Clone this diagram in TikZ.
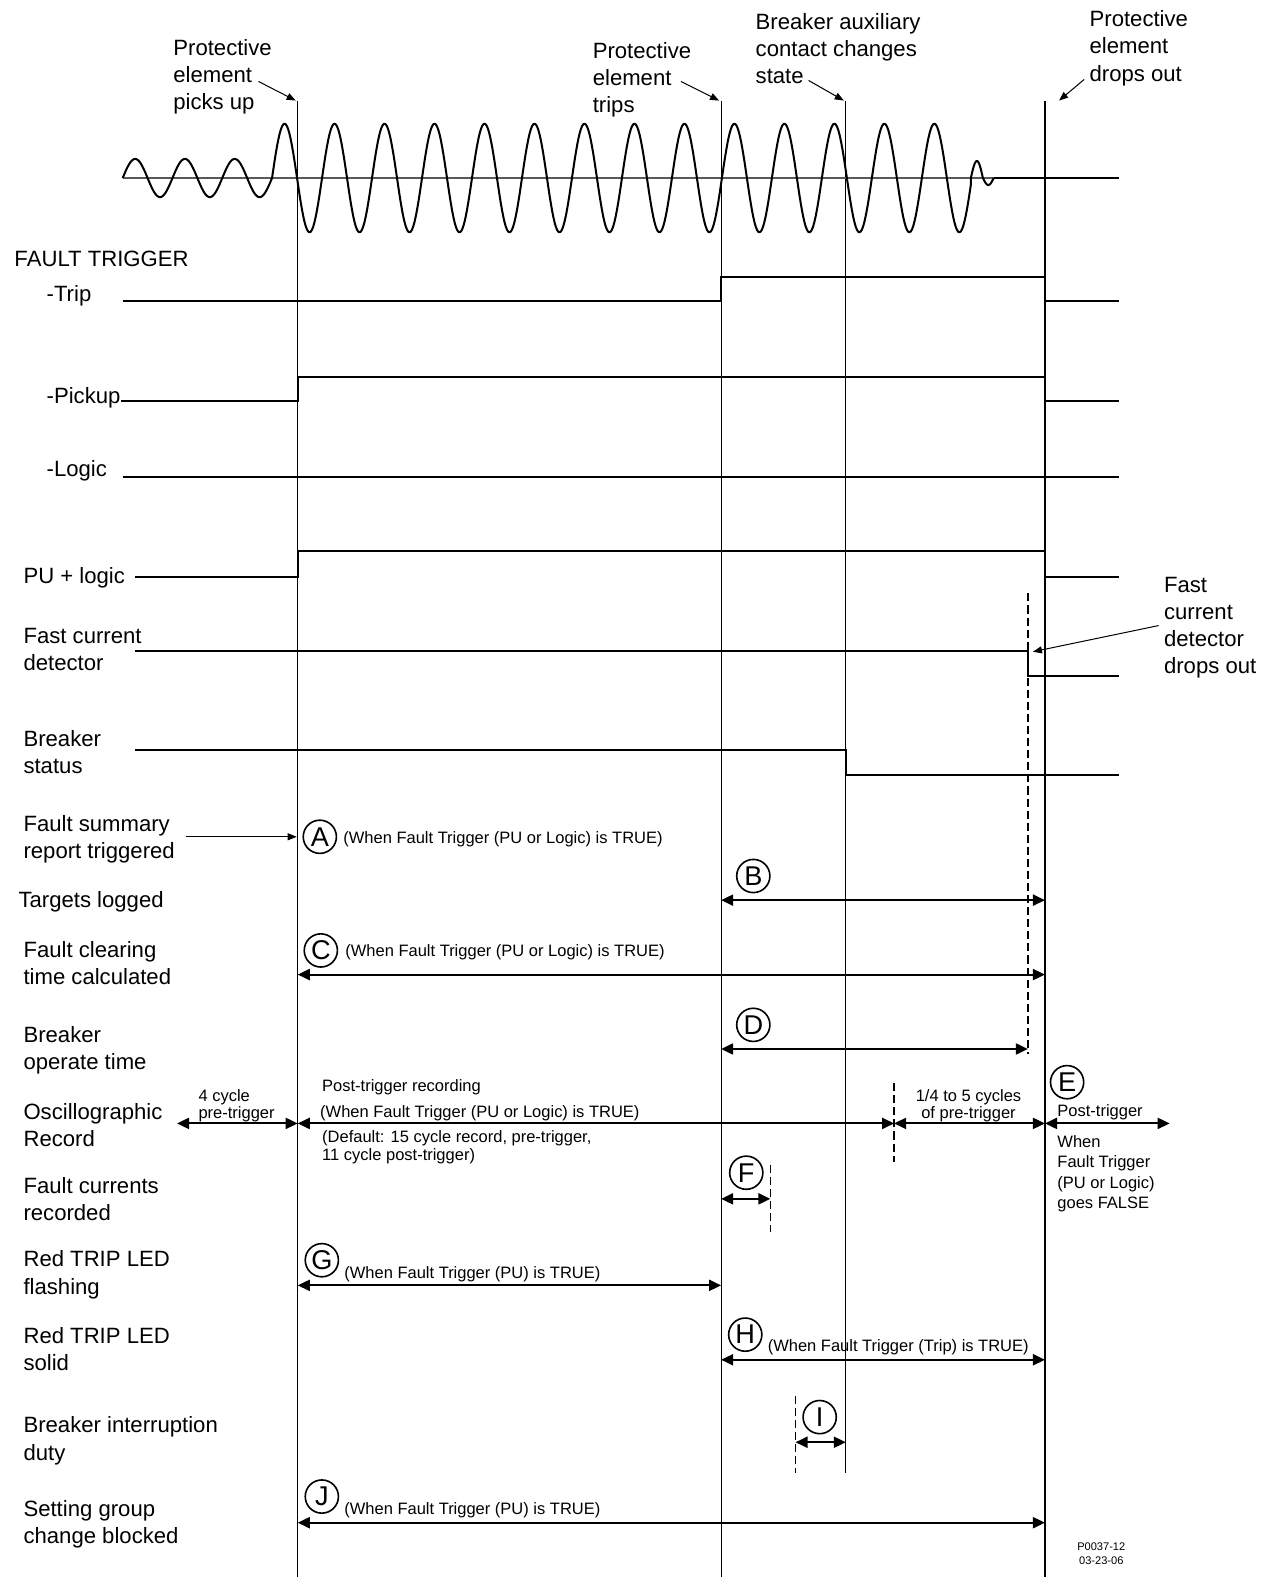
\documentclass[tikz,border=0pt]{standalone}
\usepackage{fontspec}
\setmainfont{Liberation Sans}
\usetikzlibrary{arrows.meta}
\begin{document}
\begin{tikzpicture}[x=0.5pt,y=-0.5pt,
 lbl/.style={font=\fontsize{11}{13.5}\selectfont, align=left, inner sep=0pt, anchor=west, yshift=-1pt},
 sml/.style={font=\fontsize{8.2}{8.5}\selectfont, align=left, inner sep=0pt, anchor=west, yshift=-1pt},
 circ/.style={circle, draw, line width=0.8pt, minimum size=16.5pt, inner sep=0pt, font=\fontsize{13.5}{13.5}\selectfont},
 vline/.style={line width=0.6pt},
 sig/.style={line width=1pt},
 wave/.style={line width=1pt, line join=round},
 dim/.style={line width=1pt, {Triangle[length=6pt,width=5.5pt]}-{Triangle[length=6pt,width=5.5pt]}},
 callout/.style={line width=0.5pt, -{Triangle[length=4.5pt,width=3.5pt]}},
 dsh/.style={line width=0.7pt, dash pattern=on 4pt off 2pt}
]
\useasboundingbox (0,0) rectangle (1260,1568);

% ---------- vertical event lines ----------
\coordinate (v1t) at (296,100);  \coordinate (v1b) at (296,1568);
\coordinate (v2t) at (717,100);  \coordinate (v2b) at (717,1568);
\coordinate (v3t) at (841,100);  \coordinate (v3b) at (841,1465);
\coordinate (v4t) at (1039,100); \coordinate (v4b) at (1039,1568);
\draw[vline] (v1t) -- (v1b);
\draw[vline] (v2t) -- (v2b);
\draw[vline] (v3t) -- (v3b);
\draw[vline] (v4t) -- (v4b);

% ---------- top labels ----------
\node[lbl] (lpu) at (172,74.5) {Protective\\element\\picks up};
\node[lbl] (ltr) at (589,77) {Protective\\element\\trips};
\node[lbl] (lax) at (751,46) {Breaker auxiliary\\contact changes\\state};
\node[lbl] (ldo) at (1083,46) {Protective\\element\\drops out};
\coordinate (cpu) at (257,81);
\coordinate (ctr) at (677,81);
\coordinate (cax) at (804,80);
\coordinate (cdo) at (1078,79);
\draw[callout] (cpu) -- ([xshift=-1]v1t);
\draw[callout] (ctr) -- ([xshift=-1]v2t);
\draw[callout] (cax) -- ([xshift=-1]v3t);
\draw[callout] (cdo) -- ([xshift=7]v4t);

% ---------- waveform ----------
\coordinate (ax0) at (122,177); \coordinate (ax1) at (988,177); \coordinate (ax2) at (1113,177);
\draw[line width=0.6pt, gray!70!black] (ax0) -- (ax1);
\draw[line width=1pt] (ax1) -- (ax2);
\draw[wave] plot[domain=122:270.5, samples=120] (\x, {177-19*sin(7.2727*(\x-122))})
  -- plot[domain=270.5:965.3, samples=560] (\x, {177-54*sin(7.2435*(\x-270.5))})
  -- plot[domain=965.3:977.3, samples=16] (\x, {177-17*sin(15*(\x-965.3))})
  -- plot[domain=977.3:988, samples=14] (\x, {177+7*sin(16.8*(\x-977.3))});

% ---------- fault trigger signals ----------
\node[lbl] (lft) at (14,255) {FAULT TRIGGER};
\node[lbl] (ltrip) at (46,292) {-Trip};
\node[lbl] (lpick) at (46,394) {-Pickup};
\node[lbl] (llog) at (46,466) {-Logic};
\node[lbl] (lpul) at (23,572) {PU + logic};
\node[lbl] (lfcd) at (23,643.5) {Fast current\\detector};
\node[lbl] (lbs) at (23,745.5) {Breaker\\status};

\draw[sig] (122,299) -- (717,299) -- (717,275) -- (1039,275) -- (1039,299) -- (1113,299);
\draw[sig] (lpick.east) ++(0,3) -- (296,399) -- (296,375) -- (1039,375) -- (1039,399) -- (1113,399);
\draw[sig] (122,474) -- (1113,474);
\draw[sig] (134,574) -- (296,574) -- (296,548) -- (1039,548) -- (1039,574) -- (1113,574);
\draw[sig] (134,647) -- (1022,647) -- (1022,672) -- (1113,672);
\draw[sig] (134,746) -- (841,746) -- (841,771) -- (1113,771);

% fast current detector drop-out
\coordinate (fd1) at (1022,590); \coordinate (fd2) at (1022,1048);
\draw[dsh] (fd1) -- (fd2);
\node[lbl] (lfdo) at (1157,622) {Fast\\current\\detector\\drops out};
\coordinate (cfd) at (1152,622); \coordinate (cfd2) at (1027,648);
\draw[callout] (cfd) -- (cfd2);

% ---------- event rows ----------
\node[lbl] (lfs) at (23,832.5) {Fault summary\\report triggered};
\node[lbl] (ltl) at (18,895) {Targets logged};
\node[lbl] (lfc) at (23,956) {Fault clearing\\time calculated};
\node[lbl] (lbo) at (23,1042.5) {Breaker\\operate time};
\node[lbl] (los) at (23,1116.5) {Oscillographic\\Record};
\node[lbl] (lfr) at (23,1190.5) {Fault currents\\recorded};
\node[lbl] (lrf) at (23,1265.5) {Red TRIP LED\\flashing};
\node[lbl] (lrs) at (23,1339.5) {Red TRIP LED\\solid};
\node[lbl] (lbi) at (23,1430.5) {Breaker interruption\\duty};
\node[lbl] (lsg) at (23,1513.5) {Setting group\\change blocked};

% A
\node[circ] (cA) at (318,832) {A};
\node[sml] (tA) at (341,832) {(When Fault Trigger (PU or Logic) is TRUE)};
\coordinate (a0) at (185,832); \coordinate (a1) at (295,832);
\draw[callout] (a0) -- (a1);
% B
\node[circ] (cB) at (749,871) {B};
\coordinate (b1) at (717,895); \coordinate (b2) at (1039,895);
\draw[dim] (b1) -- (b2);
% C
\node[circ] (cC) at (319,945) {C};
\node[sml] (tC) at (343,945) {(When Fault Trigger (PU or Logic) is TRUE)};
\coordinate (c1) at (296,969); \coordinate (c2) at (1039,969);
\draw[dim] (c1) -- (c2);
% D
\node[circ] (cD) at (749,1019) {D};
\coordinate (d1) at (717,1043); \coordinate (d2) at (1022,1043);
\draw[dim] (d1) -- (d2);
% E / oscillographic record
\node[sml, align=left] (t4c) at (197,1097.5) {4 cycle\\pre-trigger};
\node[sml] (tpr) at (320,1079) {Post-trigger recording};
\node[sml] (tpw) at (318,1105) {(When Fault Trigger (PU or Logic) is TRUE)};
\node[sml, font=\fontsize{8.2}{7.5}\selectfont] (tdf) at (320,1138.5) {(Default: 15 cycle record, pre-trigger,\\11 cycle post-trigger)};
\node[sml, align=center, anchor=center] (t14) at (963,1097.5) {1/4 to 5 cycles\\of pre-trigger};
\node[circ] (cE) at (1061,1076) {E};
\node[sml] (tpt) at (1051,1104) {Post-trigger};
\node[sml, font=\fontsize{8.2}{10}\selectfont] (twh) at (1051,1165) {When\\Fault Trigger\\(PU or Logic)\\goes FALSE};
\coordinate (o0) at (176,1117); \coordinate (o1) at (296,1117);
\coordinate (o2) at (889,1117); \coordinate (o3) at (1039,1117); \coordinate (o4) at (1163,1117);
\draw[dim] (o0) -- (o1);
\draw[dim] (o1) -- (o2);
\draw[dim] (o2) -- (o3);
\draw[dim] (o3) -- (o4);
\coordinate (od1) at (889,1077); \coordinate (od2) at (889,1155);
\draw[dsh] (od1) -- (od2);
% F
\node[circ] (cF) at (742,1166) {F};
\coordinate (f1) at (717,1192); \coordinate (f2) at (766,1192);
\draw[dim] (f1) -- (f2);
\coordinate (fd3) at (766,1158); \coordinate (fd4) at (766,1225);
\draw[dsh] (fd3) -- (fd4);
% G
\node[circ] (cG) at (320,1253) {G};
\node[sml] (tG) at (342,1265) {(When Fault Trigger (PU) is TRUE)};
\coordinate (g1) at (296,1278); \coordinate (g2) at (717,1278);
\draw[dim] (g1) -- (g2);
% H
\node[circ] (cH) at (741,1327) {H};
\node[sml] (tH) at (763,1338) {(When Fault Trigger (Trip) is TRUE)};
\coordinate (h1) at (717,1352); \coordinate (h2) at (1039,1352);
\draw[dim] (h1) -- (h2);
% I
\node[circ] (cI) at (815,1409) {I};
\coordinate (i1) at (791,1434); \coordinate (i2) at (841,1434);
\draw[dim] (i1) -- (i2);
\coordinate (id1) at (791,1388); \coordinate (id2) at (791,1465);
\draw[dsh] (id1) -- (id2);
% J
\node[circ] (cJ) at (320,1488) {J};
\node[sml] (tJ) at (342,1500) {(When Fault Trigger (PU) is TRUE)};
\coordinate (j1) at (296,1514); \coordinate (j2) at (1039,1514);
\draw[dim] (j1) -- (j2);

% drawing number
\node[font=\fontsize{5.5}{7}\selectfont, align=center, inner sep=0pt] (pno) at (1095,1545) {P0037-12\\03-23-06};
\end{tikzpicture}
\end{document}
